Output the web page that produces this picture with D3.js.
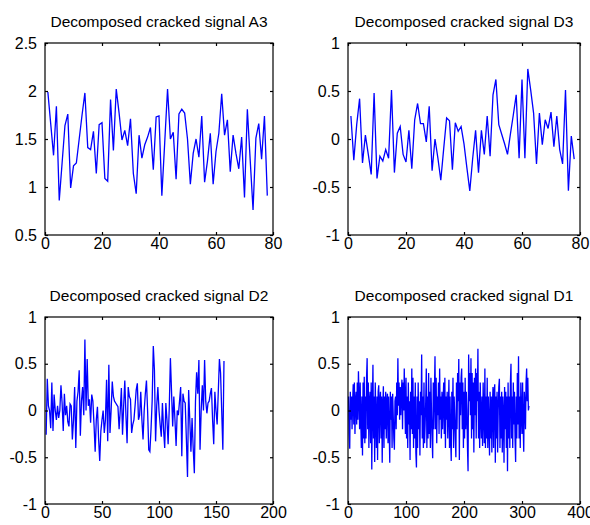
<!DOCTYPE html>
<html>
<head>
<meta charset="utf-8">
<script src="https://cdn.jsdelivr.net/npm/d3@7"></script>
<style>
  html, body { margin: 0; padding: 0; background: #fff; }
  svg { display: block; }
  text { font-family: Arial, "Liberation Sans", sans-serif; fill: #000; }
</style>
</head>
<body>
<svg id="chart" width="590" height="525"></svg>
<script>
// ---------- data ----------
const titles = ["Decomposed cracked signal A3", "Decomposed cracked signal D3",
                "Decomposed cracked signal D2", "Decomposed cracked signal D1"];

const a3 = [1.99,1.66,1.33,1.84,0.86,1.25,1.64,1.76,0.99,1.22,
            1.25,1.50,1.75,1.98,1.41,1.39,1.58,1.14,1.65,1.67,
            1.09,1.06,1.91,1.38,2.02,1.77,1.49,1.59,1.43,1.71,
            1.14,0.93,1.54,1.30,1.44,1.52,1.62,1.18,1.73,1.74,
            0.91,1.46,2.02,1.50,1.57,1.08,1.76,1.81,1.77,1.50,
            1.03,1.35,1.50,1.31,1.74,1.05,1.27,1.56,1.03,1.37,
            1.56,1.97,1.54,1.70,1.16,1.54,1.35,1.19,1.52,0.89,
            1.81,1.28,0.76,1.51,1.66,1.29,1.74,0.91];

const d3s = [0.24,-0.22,0.15,0.42,-0.25,0.04,-0.16,-0.37,0.48,-0.41,
             -0.18,-0.23,-0.11,-0.20,0.51,-0.35,0.06,0.13,-0.16,-0.24,
             0.09,-0.31,0.20,0.37,0.16,0.16,-0.03,0.34,-0.33,0.00,
             -0.20,-0.43,-0.10,0.22,0.19,-0.32,0.17,0.08,0.13,-0.05,
             -0.30,-0.54,-0.20,0.09,-0.35,0.09,-0.16,0.24,-0.18,0.46,
             0.62,0.15,0.05,-0.05,-0.16,0.05,0.25,0.46,-0.20,0.62,
             -0.20,0.73,0.51,0.27,-0.26,0.27,-0.06,0.20,0.11,0.28,
             -0.08,0.24,-0.11,-0.26,0.51,-0.54,0.03,-0.21];

const d2 = [-0.26,0.34,0.05,0.00,-0.19,0.30,-0.22,0.17,0.00,-0.10,
            0.05,-0.08,0.00,0.27,0.08,-0.22,0.18,-0.05,0.05,-0.12,
            -0.17,0.07,0.05,-0.31,-0.10,0.25,-0.40,0.10,0.20,0.43,
            -0.27,0.10,0.25,-0.05,0.76,0.00,0.55,0.05,0.12,-0.13,
            0.17,0.10,-0.15,-0.44,-0.10,0.04,-0.30,-0.54,-0.22,-0.10,
            0.00,-0.24,-0.10,0.33,-0.33,0.49,-0.24,0.00,0.31,0.15,
            0.10,0.08,0.06,0.04,-0.20,0.00,0.24,-0.26,0.05,0.32,
            -0.05,-0.35,0.25,0.15,0.12,-0.24,-0.15,-0.10,0.05,0.22,
            0.29,-0.10,-0.05,0.20,-0.10,-0.31,0.00,0.18,0.32,0.00,
            -0.42,-0.44,-0.20,0.10,0.69,0.43,-0.33,0.05,0.25,0.00,
            -0.15,-0.28,0.08,-0.20,-0.40,0.08,-0.10,-0.36,0.03,0.56,
            0.20,-0.17,0.15,-0.10,-0.38,0.00,-0.05,0.10,0.25,-0.49,
            0.18,0.10,0.08,-0.30,-0.71,0.22,-0.10,-0.44,-0.08,-0.40,
            -0.67,0.10,0.41,0.18,0.54,-0.42,0.00,0.27,0.00,0.54,
            0.10,-0.03,0.08,0.10,0.18,0.24,-0.10,-0.36,0.20,0.00,
            -0.15,0.20,0.55,0.40,0.00,-0.42,0.53];

const d1 = [0.15,-0.25,-0.41,0.20,-0.10,0.15,-0.20,0.10,0.28,-0.15,
            0.30,-0.25,0.10,0.20,-0.15,0.30,-0.10,0.42,0.15,-0.20,
            0.30,-0.10,-0.40,0.15,-0.48,0.30,-0.30,0.36,-0.35,0.15,
            -0.30,0.35,0.56,-0.20,0.30,-0.40,0.10,0.20,-0.35,0.30,
            -0.63,0.05,0.49,-0.30,0.15,-0.55,0.30,-0.10,-0.40,0.15,
            -0.53,0.20,0.27,-0.35,0.10,0.20,-0.30,0.15,-0.56,0.05,
            0.26,-0.40,0.15,-0.20,0.20,-0.30,0.10,0.18,-0.35,0.15,
            -0.20,-0.56,0.20,-0.10,0.15,-0.40,0.18,-0.05,-0.30,-0.42,
            0.10,0.15,-0.20,0.30,-0.05,0.56,0.05,0.30,-0.10,0.25,
            -0.05,0.20,0.33,-0.20,0.30,0.00,0.45,0.10,-0.25,0.35,
            -0.30,0.15,-0.40,0.30,-0.15,0.10,-0.53,0.20,-0.20,0.45,
            -0.25,0.35,-0.40,0.15,-0.30,0.30,-0.45,-0.61,0.15,-0.40,
            0.30,-0.20,0.10,-0.48,0.20,-0.05,0.60,-0.30,0.15,-0.40,
            0.30,-0.35,-0.15,0.10,0.45,-0.40,0.15,-0.30,0.40,-0.25,
            0.20,-0.40,0.35,-0.05,-0.30,-0.51,0.30,-0.20,0.20,0.58,
            -0.20,0.35,-0.35,0.15,-0.05,0.30,-0.25,0.45,-0.10,0.15,
            -0.30,0.20,-0.20,0.10,0.30,-0.25,0.35,-0.40,0.15,-0.10,
            0.20,-0.30,0.00,0.33,-0.40,0.15,-0.30,-0.54,0.20,-0.20,
            0.35,-0.40,0.15,-0.05,-0.30,-0.50,0.30,-0.20,0.40,0.10,
            0.55,-0.53,0.30,-0.05,0.35,0.45,-0.20,0.30,-0.40,0.20,
            -0.30,0.35,-0.20,0.20,0.00,-0.40,-0.65,0.60,0.10,0.40,
            -0.05,0.56,-0.30,0.40,-0.20,0.30,-0.45,0.35,-0.05,0.45,
            -0.30,0.40,0.10,0.66,-0.30,0.20,-0.40,0.30,-0.05,-0.30,
            0.15,-0.38,0.30,-0.05,-0.35,0.45,-0.40,0.15,-0.30,0.35,
            -0.40,0.15,-0.15,-0.48,0.20,-0.30,0.15,-0.45,0.05,0.25,
            -0.40,0.20,0.28,-0.56,0.15,-0.30,0.20,-0.45,0.00,0.25,
            0.34,-0.40,0.15,-0.30,0.20,-0.45,0.15,-0.05,-0.56,0.25,
            -0.20,0.20,-0.40,0.15,-0.65,0.30,-0.30,0.15,-0.40,0.30,
            0.50,-0.30,0.15,-0.40,0.30,-0.15,0.20,-0.30,-0.55,0.15,
            -0.30,0.40,-0.15,0.58,-0.30,0.15,-0.40,0.30,-0.05,-0.25,
            0.30,-0.15,-0.44,0.20,0.05,-0.20,0.30,0.45,0.10,0.35,
            0.00,0.05];

const xTicksShort = [0, 20, 40, 60, 80];
const xTicksD2 = [0, 50, 100, 150, 200];
const xTicksD1 = [0, 100, 200, 300, 400];
const yTicksA3 = [0.5, 1, 1.5, 2, 2.5];
const yTicksD = [-1, -0.5, 0, 0.5, 1];

// ---------- layout ----------
const panels = [
  { title: titles[0], data: a3,  xDom: [0, 80],  yDom: [0.5, 2.5], xt: xTicksShort, yt: yTicksA3, box: [45, 43, 273, 235] },
  { title: titles[1], data: d3s, xDom: [0, 80],  yDom: [-1, 1],    xt: xTicksShort, yt: yTicksD,  box: [348, 43, 580, 235] },
  { title: titles[2], data: d2,  xDom: [0, 200], yDom: [-1, 1],    xt: xTicksD2,    yt: yTicksD,  box: [45, 317, 273, 504] },
  { title: titles[3], data: d1,  xDom: [0, 400], yDom: [-1, 1],    xt: xTicksD1,    yt: yTicksD,  box: [348, 317, 580, 504] }
];

const svg = d3.select("#chart");
const fmt = v => String(v);

panels.forEach(p => {
  const [l, t, r, b] = p.box;
  const x = d3.scaleLinear().domain(p.xDom).range([l, r]);
  const y = d3.scaleLinear().domain(p.yDom).range([b, t]);
  const g = svg.append("g");

  const line = d3.line().x((d, i) => x(i + 1)).y(d => y(d));
  g.append("path").datum(p.data)
    .attr("d", line)
    .attr("fill", "none")
    .attr("stroke", "#0000ff")
    .attr("stroke-width", 1.3)
    .attr("stroke-linejoin", "miter");

  const axB = d3.axisBottom(x).tickValues(p.xt).tickFormat(fmt).tickSize(-3).tickSizeOuter(0).tickPadding(3);
  const axT = d3.axisTop(x).tickValues(p.xt).tickFormat("").tickSize(-3).tickSizeOuter(0);
  const axL = d3.axisLeft(y).tickValues(p.yt).tickFormat(fmt).tickSize(-3).tickSizeOuter(0).tickPadding(8);
  const axR = d3.axisRight(y).tickValues(p.yt).tickFormat("").tickSize(-3).tickSizeOuter(0);

  const gb = g.append("g").attr("transform", `translate(0,${b})`).call(axB);
  const gt = g.append("g").attr("transform", `translate(0,${t})`).call(axT);
  const gl = g.append("g").attr("transform", `translate(${l},0)`).call(axL);
  const gr = g.append("g").attr("transform", `translate(${r},0)`).call(axR);
  [gb, gt, gl, gr].forEach(a => {
    a.select(".domain").remove();
    a.selectAll(".tick line").attr("stroke", "#000").attr("stroke-width", 1.2);
    a.selectAll("text").attr("font-size", 16).attr("font-family", 'Arial, "Liberation Sans", sans-serif').attr("fill", "#000");
  });

  g.append("rect").attr("x", l).attr("y", t).attr("width", r - l).attr("height", b - t)
    .attr("fill", "none").attr("stroke", "#000").attr("stroke-width", 1.2);

  g.append("text").attr("x", (l + r) / 2).attr("y", t - 16)
    .attr("text-anchor", "middle").attr("font-size", 15.5)
    .text(p.title);
});
</script>
</body>
</html>
